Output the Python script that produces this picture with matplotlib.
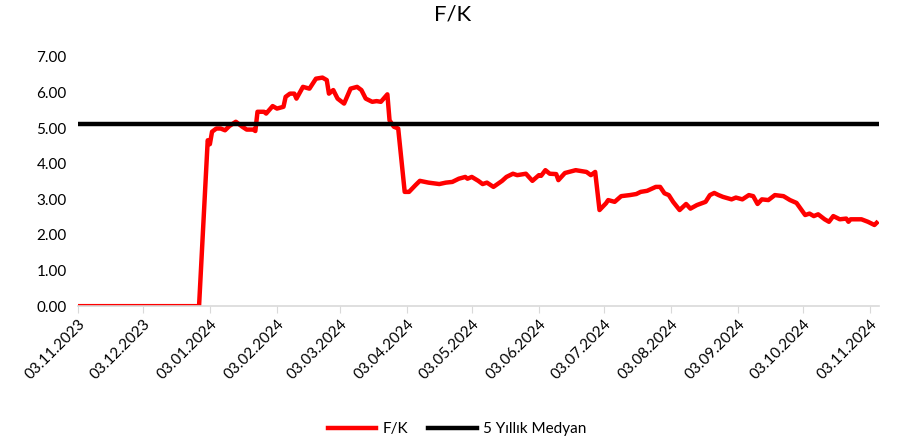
import matplotlib
matplotlib.use("Agg")
import matplotlib.pyplot as plt
import pandas as pd

plt.rcParams['font.family'] = ['Lato', 'DejaVu Sans']

dates = ["2023-11-03", "2023-12-29", "2024-01-02", "2024-01-03", "2024-01-04", "2024-01-06",
         "2024-01-08", "2024-01-10", "2024-01-12", "2024-01-15", "2024-01-18", "2024-01-20",
         "2024-01-23", "2024-01-24", "2024-01-25", "2024-01-28", "2024-01-29", "2024-02-01",
         "2024-02-03", "2024-02-06", "2024-02-07", "2024-02-09", "2024-02-11", "2024-02-12",
         "2024-02-15", "2024-02-18", "2024-02-21", "2024-02-24", "2024-02-26", "2024-02-27",
         "2024-02-29", "2024-03-02", "2024-03-05", "2024-03-08", "2024-03-11", "2024-03-13",
         "2024-03-15", "2024-03-18", "2024-03-20", "2024-03-22", "2024-03-25", "2024-03-26",
         "2024-03-28", "2024-03-30", "2024-04-02", "2024-04-04", "2024-04-07", "2024-04-09",
         "2024-04-13", "2024-04-18", "2024-04-21", "2024-04-24", "2024-04-27", "2024-04-30",
         "2024-05-01", "2024-05-03", "2024-05-06", "2024-05-08", "2024-05-10", "2024-05-13",
         "2024-05-17", "2024-05-19", "2024-05-22", "2024-05-24", "2024-05-28", "2024-05-31",
         "2024-06-03", "2024-06-04", "2024-06-06", "2024-06-08", "2024-06-11", "2024-06-12",
         "2024-06-15", "2024-06-20", "2024-06-25", "2024-06-27", "2024-06-29", "2024-07-01",
         "2024-07-04", "2024-07-05", "2024-07-08", "2024-07-11", "2024-07-15", "2024-07-18",
         "2024-07-20", "2024-07-23", "2024-07-27", "2024-07-29", "2024-07-31", "2024-08-02",
         "2024-08-04", "2024-08-07", "2024-08-10", "2024-08-12", "2024-08-15", "2024-08-19",
         "2024-08-21", "2024-08-23", "2024-08-25", "2024-08-27", "2024-08-31", "2024-09-02",
         "2024-09-05", "2024-09-08", "2024-09-10", "2024-09-12", "2024-09-14", "2024-09-17",
         "2024-09-20", "2024-09-24", "2024-09-27", "2024-09-30", "2024-10-04", "2024-10-06",
         "2024-10-08", "2024-10-10", "2024-10-13", "2024-10-15", "2024-10-17", "2024-10-20",
         "2024-10-23", "2024-10-24", "2024-10-25", "2024-10-30", "2024-11-02", "2024-11-05",
         "2024-11-06"]

fk_values = [0.00, 0.00, 4.66, 4.55, 4.90, 4.99,
             4.99, 4.94, 5.06, 5.18, 5.04, 4.96,
             4.96, 4.92, 5.46, 5.46, 5.41, 5.62,
             5.55, 5.60, 5.88, 5.97, 5.97, 5.83,
             6.16, 6.11, 6.39, 6.42, 6.35, 5.97,
             6.07, 5.83, 5.69, 6.11, 6.16, 6.07,
             5.83, 5.74, 5.76, 5.74, 5.95, 5.22,
             5.04, 4.99, 3.21, 3.21, 3.40, 3.52,
             3.47, 3.43, 3.47, 3.49, 3.58, 3.63,
             3.58, 3.63, 3.52, 3.43, 3.47, 3.35,
             3.52, 3.63, 3.72, 3.68, 3.72, 3.52,
             3.68, 3.66, 3.82, 3.72, 3.71, 3.54,
             3.74, 3.82, 3.77, 3.68, 3.77, 2.70,
             2.89, 2.98, 2.93, 3.09, 3.12, 3.15,
             3.21, 3.24, 3.35, 3.35, 3.17, 3.12,
             2.93, 2.70, 2.87, 2.74, 2.84, 2.93,
             3.12, 3.18, 3.12, 3.07, 3.00, 3.05,
             3.00, 3.12, 3.09, 2.87, 3.00, 2.98,
             3.12, 3.09, 2.98, 2.90, 2.56, 2.60,
             2.53, 2.58, 2.44, 2.37, 2.53, 2.44,
             2.46, 2.37, 2.44, 2.44, 2.37, 2.28,
             2.34]

median_5y = 5.13

tick_dates = ["2023-11-03", "2023-12-03", "2024-01-03", "2024-02-03", "2024-03-03",
              "2024-04-03", "2024-05-03", "2024-06-03", "2024-07-03", "2024-08-03",
              "2024-09-03", "2024-10-03", "2024-11-03"]
y_ticks = [0, 1, 2, 3, 4, 5, 6, 7]

x = pd.to_datetime(dates)
xt = pd.to_datetime(tick_dates)

fig = plt.figure(figsize=(9.05, 4.45), dpi=100)
ax = fig.add_axes([0.086, 0.312, 0.885, 0.56])

ax.plot(x, fk_values, color='#ff0000', lw=3.2, label='F/K', solid_joinstyle='round')
ax.plot([x[0], pd.Timestamp("2024-11-07")], [median_5y, median_5y], color='black', lw=3.2,
        label='5 Yıllık Medyan')

ax.set_xlim(pd.Timestamp("2023-11-03"), pd.Timestamp("2024-11-07"))
ax.set_ylim(0, 7)
ax.set_yticks(y_ticks)
ax.set_yticklabels([f"{v:.2f}" for v in y_ticks])
ax.set_xticks(xt)
ax.set_xticklabels([d.strftime("%d.%m.%Y") for d in xt], rotation=45, ha='right',
                   rotation_mode='anchor')

for s in ['top', 'right', 'left']:
    ax.spines[s].set_visible(False)
ax.spines['bottom'].set_color('#d9d9d9')
ax.spines['bottom'].set_linewidth(1.2)
ax.tick_params(axis='y', length=0, labelsize=11, colors='#000000', pad=8)
ax.tick_params(axis='x', length=5, color='#d9d9d9', labelsize=11, pad=3)

fig.suptitle('F/K', x=0.5, y=0.99, fontsize=16)

fig.legend(loc='center', bbox_to_anchor=(0.505, 0.035), ncol=2, frameon=False,
           fontsize=11, handlelength=3.2, columnspacing=1.3, handletextpad=0.4)

fig.savefig('out.png', dpi=100)
